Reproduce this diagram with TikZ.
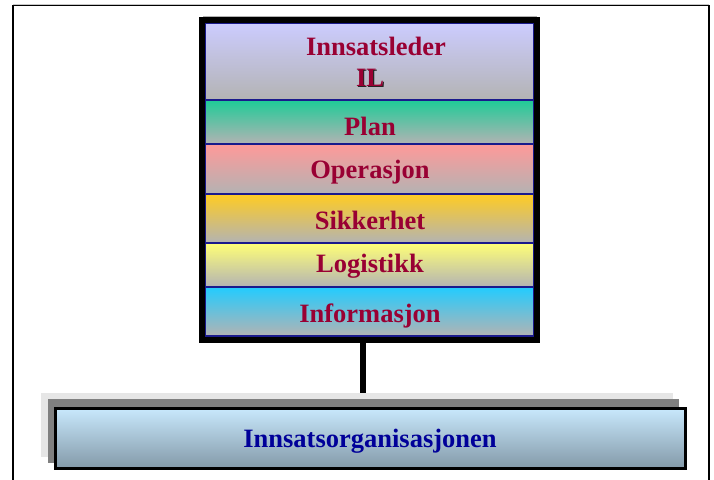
\documentclass[tikz,border=0pt]{standalone}
\usepackage{fontspec}
\setmainfont{Liberation Serif}
\begin{document}
\begin{tikzpicture}[x=1pt,y=-1pt]
\definecolor{crim}{HTML}{990033}
\definecolor{navyt}{HTML}{000099}
\definecolor{sepblue}{HTML}{1A1A8C}
\definecolor{botgray}{HTML}{B3B3B3}
\definecolor{cIL}{HTML}{CCCCFF}
\definecolor{cPlan}{HTML}{1ECB97}
\definecolor{cOp}{HTML}{FF9999}
\definecolor{cSik}{HTML}{FFCC22}
\definecolor{cLog}{HTML}{FFFF77}
\definecolor{cInf}{HTML}{22CCFF}
\definecolor{boxtop}{HTML}{C8E8FC}
\definecolor{boxbot}{HTML}{8399A8}
\definecolor{lgray}{HTML}{E6E6E6}
\definecolor{dgray}{HTML}{808080}
\tikzset{
  section/.style={rectangle, inner sep=0pt, minimum width=329pt, top color=#1, bottom color=botgray, draw=sepblue, line width=1.2pt},
  lbl/.style={anchor=base, inner sep=0pt, text=crim, font=\fontsize{26.5}{30}\selectfont\bfseries},
  blk/.style={rectangle, inner sep=0pt, draw=none}
}
\useasboundingbox (0,0) rectangle (714,479);
% outer frame
\draw[lgray!70!gray, line width=0.8pt] (13,4) -- (709,4);
\draw[line width=1.6pt] (13,480) -- (13,5.5) -- (709,5.5) -- (709,480);
% stack sections
\node[section=cIL, minimum height=77pt] (s1) at (369.5,61.5) {};
\node[section=cPlan, minimum height=44pt] (s2) at (369.5,122) {};
\node[section=cOp, minimum height=50pt] (s3) at (369.5,169) {};
\node[section=cSik, minimum height=49pt] (s4) at (369.5,218.5) {};
\node[section=cLog, minimum height=44pt] (s5) at (369.5,265) {};
\node[section=cInf, minimum height=49pt] (s6) at (369.5,311.5) {};
% stack frame
\draw[gray!60, line width=0.8pt] (203,16.5) -- (537,16.5);
\node[blk, draw=black, line width=6pt, minimum width=335pt, minimum height=320pt] (stack) at (369.5,180) {};
% labels
\node[lbl] (t1) at (376,55) {Innsatsleder};
\node[lbl, text=black!85] (t1s) at (371.2,87.2) {IL};
\node[lbl] (t1b) at (370,86) {IL};
\node[lbl] (t2) at (370,135) {Plan};
\node[lbl] (t3) at (370,178) {Operasjon};
\node[lbl] (t4) at (370,229) {Sikkerhet};
\node[lbl] (t5) at (370,272) {Logistikk};
\node[lbl] (t6) at (370,322) {Informasjon};
% bottom box with shadows
\node[blk, fill=lgray, minimum width=632pt, minimum height=64pt] (lg) at (357,425) {};
\node[blk, fill=dgray, minimum width=631pt, minimum height=64pt] (dg) at (363.5,431) {};
\node[blk, draw=black, line width=3pt, top color=boxtop, bottom color=boxbot, minimum width=630pt, minimum height=60pt] (org) at (370.5,438.5) {};
\node[lbl, text=navyt] (t7) at (370,447) {Innsatsorganisasjonen};
% connector
\coordinate (c1) at (363,343);
\draw[line width=6pt] (c1) -- (c1 |- lg.north);
\end{tikzpicture}
\end{document}
